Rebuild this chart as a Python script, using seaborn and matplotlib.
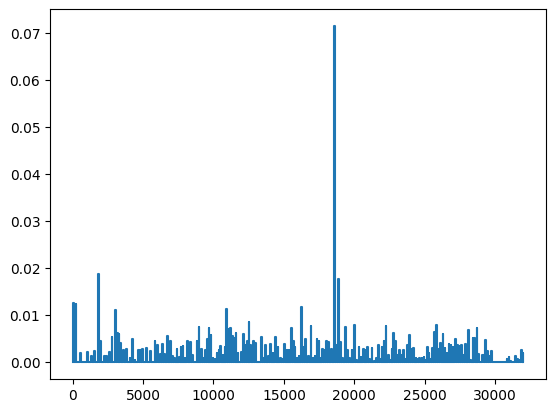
import pandas as pd
import matplotlib
matplotlib.use('Agg')
import matplotlib.pyplot as plt
import seaborn as sns

# --- Spike data (sample index, value) ---
peak_t = [10, 40, 215, 550, 1020, 1330, 1520, 1825, 1940, 2230,
          2400, 2600, 2770, 3030, 3170, 3265, 3360, 3600, 3790, 4050,
          4240, 4400, 4660, 4780, 4950, 5210, 5490, 5820, 6010, 6220,
          6340, 6500, 6720, 6910, 7050, 7200, 7380, 7570, 7670, 7810,
          7950, 8120, 8330, 8470, 8800, 8940, 9130, 9270, 9420, 9560,
          9660, 9800, 9940, 10080, 10220, 10360, 10500, 10650, 10790, 10910,
          11050, 11190, 11310, 11450, 11570, 11710, 11950, 12120, 12260, 12360,
          12490, 12610, 12800, 12940, 13410, 13530, 13680, 13850, 14010, 14200,
          14360, 14550, 14710, 14850, 15000, 15190, 15330, 15520, 15640, 15760,
          15900, 16040, 16230, 16370, 16520, 16690, 16890, 17040, 17180, 17320,
          17460, 17600, 17720, 17840, 17980, 18120, 18330, 18550, 18700, 18840,
          19000, 19120, 19350, 19490, 19630, 19800, 19990, 20150, 20300, 20440,
          20610, 20730, 20890, 21060, 21220, 21380, 21530, 21670, 21810, 21930,
          22070, 22220, 22380, 22520, 22640, 22760, 22900, 23050, 23190, 23330,
          23470, 23590, 23730, 23870, 24010, 24150, 24340, 24480, 24620, 24770,
          24910, 25010, 25150, 25270, 25390, 25500, 25650, 25790, 25930, 26100,
          26260, 26400, 26540, 26690, 26830, 26970, 27140, 27280, 27420, 27560,
          27730, 27870, 28080, 28200, 28390, 28510, 28670, 28810, 29050, 29140,
          29290, 29430, 29570, 29710, 30800, 30950, 31070, 31420, 31540, 31660,
          31850, 31970]

peak_v = [0.0062, 0.0127, 0.0124, 0.0019, 0.0021, 0.0013, 0.0023, 0.0187, 0.0045, 0.0014,
          0.0014, 0.0021, 0.0053, 0.0111, 0.0063, 0.0060, 0.0040, 0.0026, 0.0029, 0.0010,
          0.0049, 0.0004, 0.0026, 0.0027, 0.0029, 0.0030, 0.0024, 0.0045, 0.0036, 0.0018,
          0.0039, 0.0018, 0.0056, 0.0045, 0.0013, 0.0010, 0.0028, 0.0012, 0.0033, 0.0035,
          0.0010, 0.0045, 0.0044, 0.0015, 0.0046, 0.0074, 0.0029, 0.0010, 0.0026, 0.0049,
          0.0072, 0.0057, 0.0010, 0.0007, 0.0019, 0.0026, 0.0034, 0.0016, 0.0033, 0.0113,
          0.0070, 0.0072, 0.0056, 0.0051, 0.0063, 0.0019, 0.0021, 0.0061, 0.0037, 0.0046,
          0.0086, 0.0036, 0.0046, 0.0040, 0.0053, 0.0010, 0.0036, 0.0013, 0.0039, 0.0020,
          0.0053, 0.0033, 0.0008, 0.0007, 0.0039, 0.0026, 0.0026, 0.0073, 0.0046, 0.0033,
          0.0008, 0.0013, 0.0118, 0.0033, 0.0049, 0.0013, 0.0077, 0.0008, 0.0013, 0.0049,
          0.0045, 0.0010, 0.0029, 0.0026, 0.0045, 0.0043, 0.0029, 0.0715, 0.0036, 0.0177,
          0.0043, 0.0010, 0.0074, 0.0027, 0.0010, 0.0026, 0.0079, 0.0004, 0.0033, 0.0012,
          0.0029, 0.0026, 0.0033, 0.0007, 0.0030, 0.0002, 0.0010, 0.0037, 0.0007, 0.0033,
          0.0045, 0.0076, 0.0015, 0.0004, 0.0029, 0.0063, 0.0046, 0.0015, 0.0026, 0.0016,
          0.0027, 0.0007, 0.0037, 0.0057, 0.0029, 0.0031, 0.0010, 0.0007, 0.0010, 0.0010,
          0.0012, 0.0004, 0.0033, 0.0019, 0.0007, 0.0031, 0.0064, 0.0080, 0.0029, 0.0041,
          0.0061, 0.0031, 0.0019, 0.0039, 0.0037, 0.0033, 0.0049, 0.0036, 0.0034, 0.0037,
          0.0015, 0.0039, 0.0069, 0.0004, 0.0051, 0.0052, 0.0073, 0.0018, 0.0015, 0.0016,
          0.0048, 0.0023, 0.0013, 0.0024, 0.0007, 0.0012, 0.0002, 0.0014, 0.0007, 0.0004,
          0.0026, 0.0020]

# samples where the signal sits on the zero baseline between spikes
trough_t = [0, 100, 275, 610, 1080, 1390, 1580, 1885, 2000, 2290, 2460, 2660, 2830,
            3090, 3220, 3310, 3420, 3660, 3850, 4110, 4300, 4460, 4720, 4840, 5010,
            5270, 5550, 5880, 6070, 6280, 6400, 6560, 6780, 6970, 7110, 7260, 7440,
            7620, 7730, 7870, 8010, 8180, 8390, 8530, 8860, 9000, 9190, 9330, 9480,
            9610, 9720, 9860, 10000, 10140, 10280, 10420, 10560, 10710, 10850, 10970,
            11110, 11250, 11370, 11510, 11630, 11770, 12010, 12180, 12300, 12420,
            12550, 12670, 12860, 13000, 13470, 13590, 13740, 13910, 14070, 14260,
            14420, 14610, 14770, 14910, 15060, 15250, 15390, 15580, 15700, 15820,
            15960, 16100, 16290, 16430, 16580, 16750, 16950, 17100, 17240, 17380,
            17520, 17660, 17780, 17900, 18040, 18180, 18390, 18610, 18760, 18900,
            19060, 19180, 19410, 19550, 19690, 19860, 20050, 20210, 20360, 20500,
            20670, 20790, 20950, 21120, 21280, 21440, 21590, 21730, 21870, 21990,
            22130, 22280, 22440, 22580, 22700, 22820, 22960, 23110, 23250, 23390,
            23530, 23650, 23790, 23930, 24070, 24210, 24400, 24540, 24680, 24830,
            24960, 25070, 25210, 25330, 25440, 25560, 25710, 25850, 25990, 26160,
            26320, 26460, 26600, 26750, 26890, 27030, 27200, 27340, 27480, 27620,
            27790, 27930, 28140, 28260, 28450, 28570, 28730, 28870, 29100, 29200,
            29350, 29490, 29630, 29770, 30700, 30860, 31010, 31130, 31480, 31600,
            31720, 31910, 32000]

# --- Build series ---
df = pd.concat([
    pd.DataFrame({'t': peak_t, 'value': peak_v}),
    pd.DataFrame({'t': trough_t, 'value': 0.0}),
]).sort_values('t').reset_index(drop=True)

# --- Plot ---
fig = plt.figure(figsize=(5.56, 4.13), dpi=100)
ax = fig.add_axes([0.0899, 0.0823, 0.8921, 0.8952])
sns.lineplot(data=df, x='t', y='value', estimator=None, sort=True,
             color='#1f77b4', linewidth=1.5, drawstyle='steps-post', ax=ax)
ax.set(xlabel='', ylabel='')
ax.set_xticks([0, 5000, 10000, 15000, 20000, 25000, 30000])

fig.savefig('out.png', dpi=100)
